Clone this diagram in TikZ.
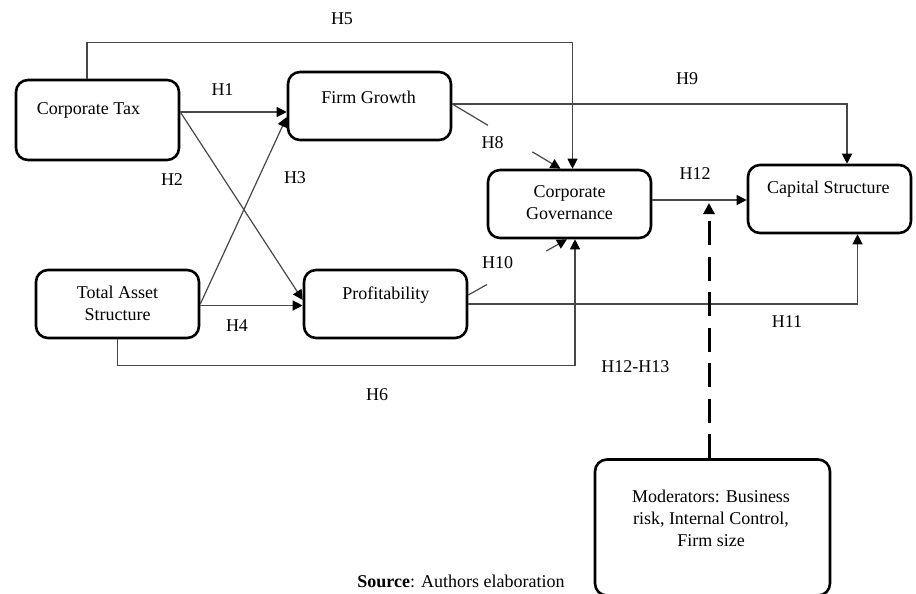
\documentclass[tikz,border=0pt]{standalone}
\usepackage{fontspec}
\setmainfont{Liberation Serif}
\usetikzlibrary{arrows.meta}
\begin{document}
\begin{tikzpicture}[x=1pt,y=-1pt,
  every node/.style={font=\fontsize{18}{22}\selectfont, inner sep=0pt},
  varbox/.style={draw, line width=2.6pt, rounded corners=12pt, minimum height=68pt},
  line/.style={draw=black!72, line width=1.2pt},
  conn/.style={line, -{Triangle[length=10pt,width=10pt,color=black]}},
  dashline/.style={draw=black, line width=3pt, dash pattern=on 24pt off 11.5pt, -{Triangle[length=11pt,width=11pt]}}
]
\useasboundingbox (0,0) rectangle (916,594);

% boxes
\node[varbox, minimum width=163pt, minimum height=80pt] (ct) at (97.5,120) {};
\node (ctt) at (88.5,110) {Corporate Tax};
\node[varbox, minimum width=163pt] (fg) at (369.5,106) {};
\node (fgt) at (368.5,97) {Firm Growth};
\node[varbox, minimum width=163pt] (cg) at (569.5,204) {};
\node[align=center] (cgt) at (569.5,203) {Corporate\\Governance};
\node[varbox, minimum width=163pt] (cs) at (829.5,199) {};
\node (cst) at (828.3,189) {Capital Structure};
\node[varbox, minimum width=163pt] (ta) at (117.5,304) {};
\node[align=center] (tat) at (117.5,303) {Total Asset\\Structure};
\node[varbox, minimum width=163pt] (pr) at (385.5,304) {};
\node (prt) at (385.8,295) {Profitability};
\node[varbox, minimum width=235pt, minimum height=136pt] (mod) at (712.5,527.5) {};
\node[align=center] (modt) at (711,518) {Moderators: Business\\risk, Internal Control,\\Firm size};

% labels
\node (l5) at (342,19) {H5};
\node (l1) at (222.5,90) {H1};
\node (l2) at (172,180) {H2};
\node (l3) at (295,178) {H3};
\node (l4) at (237,326) {H4};
\node (l6) at (377,395) {H6};
\node (l8) at (492.5,143) {H8};
\node (l9) at (687,79) {H9};
\node (l12) at (695,174) {H12};
\node (l10) at (497.5,263) {H10};
\node (l11) at (787,322) {H11};
\node (l1213) at (635.3,367) {H12-H13};
\node (src) at (461,581) {\textbf{Source}: Authors elaboration};

% connectors
\draw[conn] ([yshift=8pt]ct.east) coordinate (h1s) -- (h1s -| fg.west);
\draw[conn] (h1s) -- ([yshift=4pt]pr.west);
\draw[conn] (ta.east) -- ([yshift=-11pt]fg.west);
\draw[conn] ([yshift=-1.5pt]ta.east) coordinate (h4s) -- (h4s -| pr.west);
\draw[conn] ([xshift=-10.5pt]ct.north) -- ++(0,-36) -| ([xshift=3pt]cg.north);
\draw[conn] (ta.south) -- ++(0,26) -| ([xshift=5.5pt]cg.south);
\path ([yshift=2pt]fg.east) coordinate (h8s) -- ([xshift=-9pt]cg.north) coordinate (h8e)
  coordinate[pos=0.33] (h8a) coordinate[pos=0.74] (h8b);
\draw[line] (h8s) -- (h8a);
\draw[conn] (h8b) -- (h8e);
\draw[conn] (h8s) -| ([xshift=17.5pt]cs.north);
\path ([yshift=9pt]pr.east) coordinate (h10s) -- ([xshift=-2.5pt]cg.south) coordinate (h10e)
  coordinate[pos=0.19] (h10a) coordinate[pos=0.79] (h10b);
\draw[line] (h10s) -- (h10a);
\draw[conn] (h10b) -- (h10e);
\draw[conn] (pr.east) -| ([xshift=28pt]cs.south);
\draw[conn] ([yshift=4pt]cg.east) coordinate (h12s) -- (h12s -| cs.west);
\draw[dashline] ([xshift=-3.5pt]mod.north) coordinate (mods) -- ([yshift=-3pt]mods |- h12s);
\end{tikzpicture}
\end{document}
